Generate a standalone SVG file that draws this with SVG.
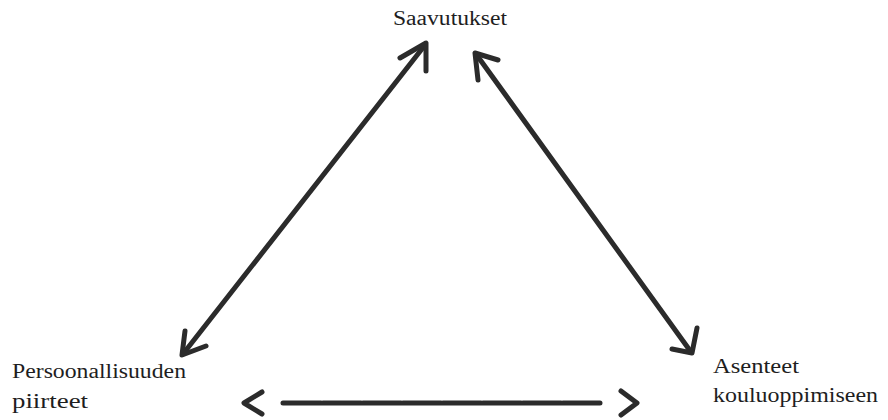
<svg xmlns="http://www.w3.org/2000/svg" width="888" height="420" viewBox="0 0 888 420">
<style>
.t{font-family:"Liberation Serif","Times New Roman",serif;font-size:20px;fill:#1e1e1e}
.c{fill:none;stroke:#2b2b2b;stroke-width:5;stroke-linecap:round;stroke-linejoin:round}
</style>
<rect width="888" height="420" fill="#fff"/>
<g id="saavutukset"><text class="t" x="393" y="25" textLength="114" lengthAdjust="spacingAndGlyphs">Saavutukset</text></g>
<g id="persoonallisuus"><text class="t" x="12" y="378" textLength="174" lengthAdjust="spacingAndGlyphs">Persoonallisuuden</text><text class="t" x="12" y="408" textLength="76" lengthAdjust="spacingAndGlyphs">piirteet</text></g>
<g id="asenteet"><text class="t" x="713" y="373" textLength="86" lengthAdjust="spacingAndGlyphs">Asenteet</text><text class="t" x="713" y="402" textLength="165" lengthAdjust="spacingAndGlyphs">kouluoppimiseen</text></g>
<g id="connectors">
<path class="c" d="M183 354 L425 45"/>
<path class="c" d="M400 58 L426 43 L426 71"/>
<path class="c" d="M185 331 L182 355 L206 346"/>
<path class="c" d="M476 54 L691 352"/>
<path class="c" d="M498 60 L475 53 L478 80"/>
<path class="c" d="M697 328 L692 353 L672 349"/>
<path class="c" d="M283 403 L600 403" stroke-dasharray="38 2"/>
<path class="c" d="M262 392 L244 403 L262 414"/>
<path class="c" d="M621 391 L637 403 L621 415"/>
</g>
</svg>
